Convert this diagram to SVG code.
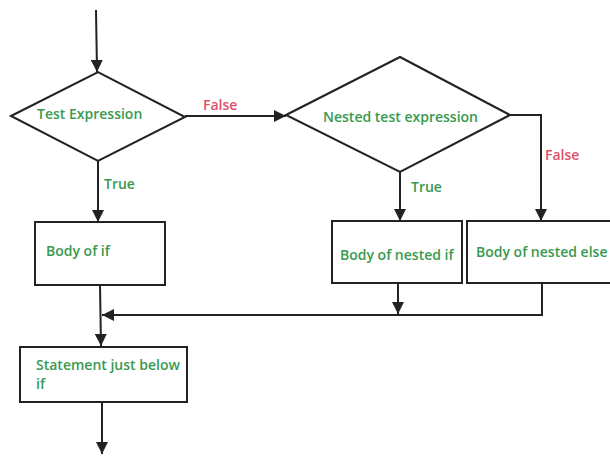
<svg xmlns="http://www.w3.org/2000/svg" width="610" height="456" viewBox="0 0 610 456">
  <style>
    .shape { fill: #ffffff; stroke: #222222; stroke-width: 2; }
    .wire { fill: none; stroke: #222222; stroke-width: 2; }
    .lbl { font-family: "Open Sans", "Liberation Sans", sans-serif; font-size: 14px; font-weight: 600; fill: #389a4e; }
    .no { font-family: "Open Sans", "Liberation Sans", sans-serif; font-size: 14px; font-weight: 600; fill: #e0506a; }
  </style>
  <defs>
    <marker id="head" viewBox="0 0 12 12" refX="12" refY="6" markerWidth="12" markerHeight="12" orient="auto" markerUnits="userSpaceOnUse">
      <path d="M0,0 L12,6 L0,12 z" fill="#222222"/>
    </marker>
  </defs>
  <rect width="610" height="456" fill="#ffffff"/>

  <!-- connectors -->
  <g id="connectors">
    <path class="wire" d="M96,10 L97,72" marker-end="url(#head)"/>
    <path class="wire" d="M185,116 L286,116" marker-end="url(#head)"/>
    <path class="wire" d="M98,161 L98,222" marker-end="url(#head)"/>
    <path class="wire" d="M400,172 L400,221" marker-end="url(#head)"/>
    <path class="wire" d="M510,115 L541,115 L541,221" marker-end="url(#head)"/>
    <path class="wire" d="M398,283 L398,314" marker-end="url(#head)"/>
    <path class="wire" d="M542,283 L542,315 L102,315" marker-end="url(#head)"/>
    <path class="wire" d="M100,285 L101,346" marker-end="url(#head)"/>
    <path class="wire" d="M102,402 L102,454" marker-end="url(#head)"/>
    <text class="no" x="203" y="110">False</text>
    <text class="lbl" x="104" y="189">True</text>
    <text class="lbl" x="411" y="192">True</text>
    <text class="no" x="545" y="160">False</text>
  </g>

  <g id="test-expression">
    <polygon class="shape" points="11,116 98,72 185,117 98,161"/>
    <text class="lbl" x="37" y="119">Test Expression</text>
  </g>

  <g id="nested-test">
    <polygon class="shape" points="286,115 400,57 510,115 400,172"/>
    <text class="lbl" x="323" y="122">Nested test expression</text>
  </g>

  <g id="body-if">
    <rect class="shape" x="35" y="222" width="130" height="63"/>
    <text class="lbl" x="46" y="256">Body of if</text>
  </g>

  <g id="body-nested-if">
    <rect class="shape" x="332" y="221" width="130" height="62"/>
    <text class="lbl" x="340" y="260">Body of nested if</text>
  </g>

  <g id="body-nested-else">
    <rect class="shape" x="467" y="221" width="160" height="62"/>
    <text class="lbl" x="476" y="257">Body of nested else</text>
  </g>

  <g id="statement-below">
    <rect class="shape" x="20" y="347" width="167" height="55"/>
    <text class="lbl" x="36" y="370">Statement just below</text>
    <text class="lbl" x="36" y="389">if</text>
  </g>
</svg>
